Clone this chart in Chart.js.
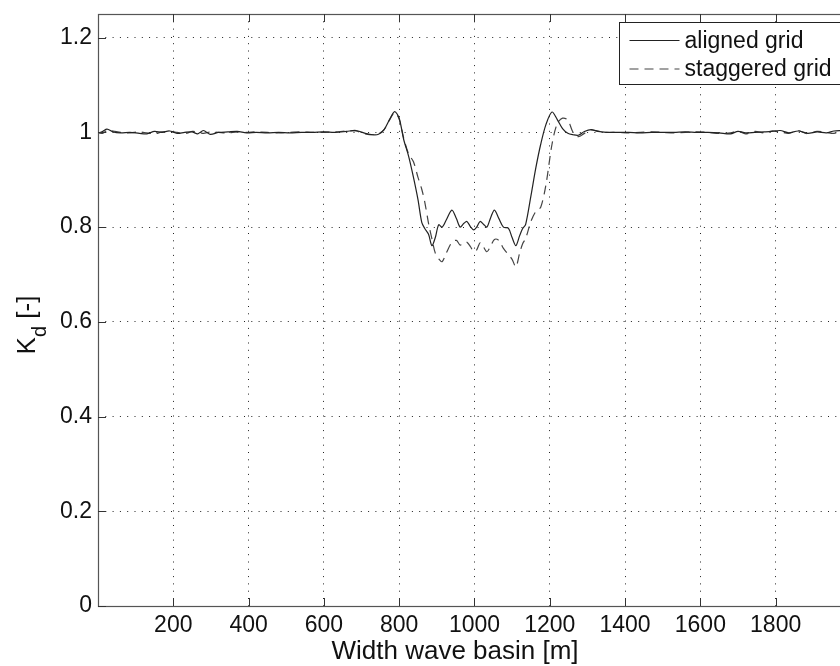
<!DOCTYPE html>
<html>
<head>
<meta charset="utf-8">
<script src="https://cdn.jsdelivr.net/npm/chart.js@4"></script>
<style>
  html, body { margin: 0; padding: 0; background: #fff; overflow: hidden; }
  #wrap { width: 840px; height: 666px; }
</style>
</head>
<body>
<div id="wrap"><canvas id="kdChart"></canvas></div>
<script>
// position across the basin [m]
const widthPos = [
  0, 12, 24, 40, 60, 85, 110, 130, 150, 170,
  190, 210, 230, 250, 265, 280, 298, 320, 345, 370,
  395, 420, 450, 480, 510, 540, 570, 600, 630, 660,
  685, 710, 730, 745, 760, 775, 788, 800, 812, 825,
  838, 850, 860, 868, 878, 887, 896, 905, 914, 925,
  940, 952, 962, 972, 980, 990, 998, 1006, 1015, 1024,
  1033, 1043, 1053, 1065, 1077, 1090, 1100, 1110, 1120, 1128,
  1136, 1150, 1163, 1176, 1190, 1206, 1220, 1234, 1248, 1262,
  1276, 1292, 1310, 1328, 1350, 1380, 1410, 1440, 1470, 1500,
  1530, 1560, 1590, 1620, 1650, 1680, 1700, 1720, 1745, 1770,
  1790, 1812, 1835, 1860, 1885, 1910, 1935, 1955, 1975
];

// diffraction coefficient Kd, aligned grid
const alignedKd = [
  0.998, 1.002, 1.007, 1.001, 0.999, 1.000, 0.998, 0.997, 1.002, 1.000,
  1.003, 0.998, 1.000, 1.001, 0.997, 1.004, 0.996, 1.000, 1.001, 1.002,
  0.999, 1.000, 0.999, 1.000, 0.999, 1.000, 1.000, 1.001, 1.000, 1.002,
  1.004, 0.998, 0.995, 0.996, 1.006, 1.028, 1.044, 1.030, 0.985, 0.950,
  0.905, 0.858, 0.810, 0.797, 0.785, 0.761, 0.778, 0.805, 0.800, 0.815,
  0.836, 0.818, 0.800, 0.808, 0.812, 0.800, 0.794, 0.800, 0.812, 0.806,
  0.800, 0.820, 0.836, 0.818, 0.800, 0.798, 0.778, 0.761, 0.782, 0.797,
  0.806, 0.866, 0.925, 0.975, 1.017, 1.043, 1.027, 1.008, 0.998, 0.995,
  0.994, 1.002, 1.006, 1.002, 1.000, 1.000, 1.000, 0.999, 1.000, 1.000,
  1.000, 1.001, 1.000, 1.000, 0.999, 0.997, 1.002, 0.999, 1.000, 1.001,
  1.002, 1.004, 0.999, 1.003, 0.998, 1.001, 0.999, 1.003, 1.004
];

// diffraction coefficient Kd, staggered grid
const staggeredKd = [
  1.000, 0.998, 1.004, 1.003, 1.000, 0.999, 1.001, 0.999, 0.997, 1.001,
  1.002, 1.000, 0.997, 1.002, 1.001, 0.998, 1.001, 1.000, 0.999, 1.001,
  1.000, 1.001, 1.000, 0.999, 1.000, 1.001, 1.000, 1.000, 1.001, 1.003,
  1.003, 0.997, 0.995, 0.997, 1.006, 1.027, 1.042, 1.028, 0.988, 0.955,
  0.938, 0.905, 0.880, 0.853, 0.808, 0.775, 0.745, 0.733, 0.727, 0.745,
  0.768, 0.772, 0.762, 0.768, 0.768, 0.758, 0.748, 0.752, 0.767, 0.758,
  0.748, 0.760, 0.774, 0.772, 0.755, 0.742, 0.732, 0.716, 0.745, 0.765,
  0.776, 0.812, 0.833, 0.842, 0.890, 0.975, 1.019, 1.030, 1.026, 1.000,
  0.991, 0.998, 1.005, 1.003, 1.000, 1.000, 0.999, 1.000, 1.001, 1.000,
  0.999, 1.000, 1.001, 1.000, 0.998, 0.999, 1.003, 0.997, 1.002, 0.999,
  1.003, 1.001, 0.998, 1.004, 0.997, 1.002, 1.000, 0.998, 1.003
];

const xTickValues = [200, 400, 600, 800, 1000, 1200, 1400, 1600, 1800];
const yTickValues = [0, 0.2, 0.4, 0.6, 0.8, 1, 1.2];
const seriesNames = ['aligned grid', 'staggered grid'];
const xTitle = 'Width wave basin [m]';

const FONT = '"Liberation Sans", Arial, Helvetica, sans-serif';
const INK = '#111';
const FRAME = '#555';

// boxed axes with inward ticks, boxed legend and axis labels (matlab look)
const matlabFrame = {
  id: 'matlabFrame',
  afterDraw(chart) {
    const { ctx, chartArea: a, scales: { x, y } } = chart;
    ctx.save();

    ctx.strokeStyle = FRAME;
    ctx.lineWidth = 1.2;
    ctx.strokeRect(a.left + 0.5, a.top + 0.5, a.right - a.left + 10, a.bottom - a.top);

    ctx.strokeStyle = '#333';
    ctx.lineWidth = 1;
    ctx.beginPath();
    xTickValues.forEach(v => {
      const px = Math.round(x.getPixelForValue(v)) + 0.5;
      ctx.moveTo(px, a.bottom); ctx.lineTo(px, a.bottom - 8);
      ctx.moveTo(px, a.top); ctx.lineTo(px, a.top + 8);
    });
    yTickValues.forEach(v => {
      const py = Math.round(y.getPixelForValue(v)) + 0.5;
      ctx.moveTo(a.left, py); ctx.lineTo(a.left + 8, py);
    });
    ctx.stroke();

    // legend
    const lx = a.right - 220.5, ly = a.top + 8.5;
    ctx.fillStyle = '#fff';
    ctx.fillRect(lx, ly, 240, 62);
    ctx.strokeStyle = '#222';
    ctx.lineWidth = 1;
    ctx.strokeRect(lx, ly, 240, 62);
    ctx.font = '23px ' + FONT;
    ctx.textBaseline = 'middle';
    ctx.textAlign = 'left';
    chart.data.datasets.forEach((ds, i) => {
      const ry = ly + 18 + i * 28.5;
      ctx.strokeStyle = ds.borderColor;
      ctx.lineWidth = ds.borderWidth;
      ctx.setLineDash(ds.borderDash || []);
      ctx.beginPath();
      ctx.moveTo(lx + 10, ry); ctx.lineTo(lx + 60, ry);
      ctx.stroke();
      ctx.setLineDash([]);
      ctx.fillStyle = INK;
      ctx.fillText(ds.label, lx + 65, ry + 1);
    });

    // x axis title
    ctx.fillStyle = INK;
    ctx.font = '26px ' + FONT;
    ctx.textAlign = 'center';
    ctx.textBaseline = 'alphabetic';
    ctx.fillText(xTitle, (a.left + a.right) / 2 - 14, a.bottom + 53);

    // y axis title: K with subscript d
    ctx.translate(35, 325);
    ctx.rotate(-Math.PI / 2);
    ctx.textAlign = 'left';
    const big = '26px ' + FONT, small = '20px ' + FONT;
    ctx.font = big;
    const wK = ctx.measureText('K').width;
    const wU = ctx.measureText(' [-]').width;
    ctx.font = small;
    const wd = ctx.measureText('d').width;
    let cx = -(wK + wd + wU) / 2;
    ctx.font = big;
    ctx.fillText('K', cx, 0);
    cx += wK;
    ctx.font = small;
    ctx.fillText('d', cx, 11);
    cx += wd;
    ctx.font = big;
    ctx.fillText(' [-]', cx, 0);

    ctx.restore();
  }
};

new Chart(document.getElementById('kdChart'), {
  type: 'line',
  data: {
    datasets: [{
      label: seriesNames[0],
      data: widthPos.map((w, i) => ({ x: w, y: alignedKd[i] })),
      borderColor: '#222',
      borderWidth: 1.2,
      pointRadius: 0,
      tension: 0.3,
      fill: false
    }, {
      label: seriesNames[1],
      data: widthPos.map((w, i) => ({ x: w, y: staggeredKd[i] })),
      borderColor: '#444',
      borderWidth: 1.2,
      borderDash: [9, 6],
      pointRadius: 0,
      tension: 0.3,
      fill: false
    }]
  },
  options: {
    responsive: true,
    maintainAspectRatio: false,
    animation: false,
    layout: { padding: { top: 14, right: 0, bottom: 0, left: 0 } },
    plugins: {
      legend: { display: false },
      tooltip: { enabled: false }
    },
    scales: {
      x: {
        type: 'linear',
        min: 0,
        max: 1971,
        afterBuildTicks: s => { s.ticks = xTickValues.map(v => ({ value: v })); },
        afterFit: s => { s.height = 60; s.paddingLeft = 0; s.paddingRight = 0; },
        ticks: {
          color: INK,
          font: { family: FONT, size: 23 },
          padding: 6,
          maxRotation: 0,
          callback: v => String(v)
        },
        grid: { color: '#222', lineWidth: 1, drawTicks: false },
        border: { display: false, dash: [1, 6.3] }
      },
      y: {
        min: 0,
        max: 1.25,
        afterBuildTicks: s => { s.ticks = yTickValues.map(v => ({ value: v })); },
        afterFit: s => { s.width = 98; s.paddingTop = 0; s.paddingBottom = 0; },
        ticks: {
          color: INK,
          font: { family: FONT, size: 23 },
          padding: 6,
          callback: v => String(Math.round(v * 10) / 10)
        },
        grid: { color: '#222', lineWidth: 1, drawTicks: false },
        border: { display: false, dash: [1, 6.3] }
      }
    }
  },
  plugins: [matlabFrame]
});
</script>
</body>
</html>
